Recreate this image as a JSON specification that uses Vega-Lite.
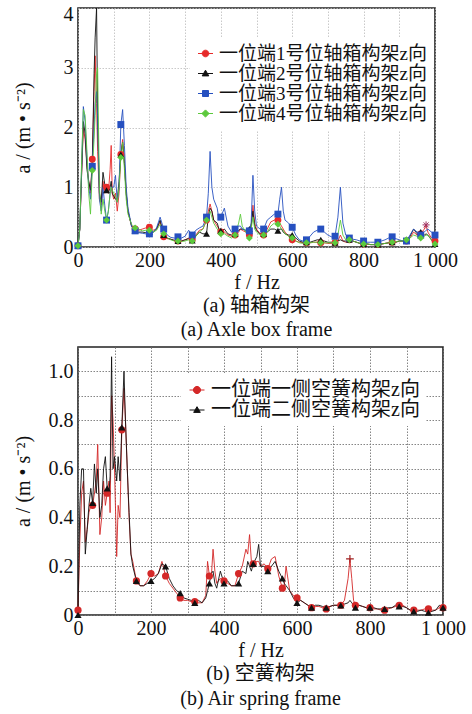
{
  "$schema": "https://vega.github.io/schema/vega-lite/v6.json",
  "padding": {"left": 12, "top": 3, "right": 5, "bottom": 4},
  "background": "white",
  "config": {
    "font": "Liberation Serif",
    "view": {"stroke": "#222", "strokeWidth": 1.6},
    "axis": {"labelFont": "Liberation Serif", "labelFontSize": 20, "labelColor": "#111", "titleFont": "Liberation Serif", "titleFontSize": 20, "titleFontWeight": "normal", "titleColor": "#111", "domain": false, "ticks": false, "gridDash": [1.5, 1.5]},
    "title": {"font": "Liberation Serif, Noto Sans CJK SC", "fontSize": 20, "fontWeight": "normal", "color": "#111", "subtitleFont": "Liberation Serif", "subtitleFontSize": 20, "subtitleColor": "#111", "orient": "bottom", "anchor": "middle", "frame": "group"}
  },
  "resolve": {"scale": {"color": "independent", "shape": "independent"}, "legend": {"color": "independent", "shape": "independent"}},
  "spacing": 5,
  "datasets": {
    "top": [
      {"f":0,"s1":0.02,"s2":0.02,"s3":0.02,"s4":0.02},
      {"f":5,"s1":0.3,"s2":0.3,"s3":0.3,"s4":0.3},
      {"f":10,"s1":1.2,"s2":1.2,"s3":1.3,"s4":1.4},
      {"f":15,"s1":2.0,"s2":2.1,"s3":2.35,"s4":2.3},
      {"f":20,"s1":1.8,"s2":1.9,"s3":2.1,"s4":2.2},
      {"f":25,"s1":1.4,"s2":1.3,"s3":1.5,"s4":1.6},
      {"f":30,"s1":1.1,"s2":1.1,"s3":1.0,"s4":0.9},
      {"f":35,"s1":0.9,"s2":0.95,"s3":0.8,"s4":0.55},
      {"f":40,"s1":1.47,"s2":1.35,"s3":1.35,"s4":1.28},
      {"f":45,"s1":2.6,"s2":2.9,"s3":2.0,"s4":1.8},
      {"f":48,"s1":3.2,"s2":3.5,"s3":2.4,"s4":2.2},
      {"f":52,"s1":2.4,"s2":4.0,"s3":2.6,"s4":2.9},
      {"f":55,"s1":1.6,"s2":2.2,"s3":2.2,"s4":3.0},
      {"f":60,"s1":0.8,"s2":0.9,"s3":0.8,"s4":1.0},
      {"f":65,"s1":0.7,"s2":0.75,"s3":0.6,"s4":0.55},
      {"f":70,"s1":1.1,"s2":1.25,"s3":1.0,"s4":0.8},
      {"f":75,"s1":0.9,"s2":1.05,"s3":0.7,"s4":0.6},
      {"f":80,"s1":1.0,"s2":0.95,"s3":0.45,"s4":0.45},
      {"f":85,"s1":0.9,"s2":0.9,"s3":0.6,"s4":0.6},
      {"f":90,"s1":1.3,"s2":1.0,"s3":0.9,"s4":0.9},
      {"f":93,"s1":1.7,"s2":1.1,"s3":1.0,"s4":1.0},
      {"f":96,"s1":0.9,"s2":0.9,"s3":1.0,"s4":0.95},
      {"f":100,"s1":0.8,"s2":0.85,"s3":1.0,"s4":0.9},
      {"f":105,"s1":0.9,"s2":0.8,"s3":1.2,"s4":0.85},
      {"f":110,"s1":0.6,"s2":0.8,"s3":0.75,"s4":0.75},
      {"f":115,"s1":0.9,"s2":1.1,"s3":1.0,"s4":1.0},
      {"f":120,"s1":1.55,"s2":1.55,"s3":2.05,"s4":1.5},
      {"f":125,"s1":1.8,"s2":1.75,"s3":2.3,"s4":1.75},
      {"f":130,"s1":1.4,"s2":1.4,"s3":1.7,"s4":1.3},
      {"f":135,"s1":0.9,"s2":0.9,"s3":1.0,"s4":0.8},
      {"f":140,"s1":0.6,"s2":0.6,"s3":0.65,"s4":0.55},
      {"f":150,"s1":0.35,"s2":0.35,"s3":0.35,"s4":0.38},
      {"f":160,"s1":0.3,"s2":0.27,"s3":0.27,"s4":0.32},
      {"f":170,"s1":0.28,"s2":0.25,"s3":0.24,"s4":0.3},
      {"f":180,"s1":0.3,"s2":0.25,"s3":0.23,"s4":0.27},
      {"f":190,"s1":0.32,"s2":0.24,"s3":0.22,"s4":0.28},
      {"f":200,"s1":0.33,"s2":0.25,"s3":0.22,"s4":0.28},
      {"f":210,"s1":0.28,"s2":0.24,"s3":0.24,"s4":0.25},
      {"f":220,"s1":0.3,"s2":0.3,"s3":0.32,"s4":0.28},
      {"f":230,"s1":0.42,"s2":0.45,"s3":0.5,"s4":0.38},
      {"f":240,"s1":0.17,"s2":0.2,"s3":0.3,"s4":0.22},
      {"f":250,"s1":0.14,"s2":0.15,"s3":0.2,"s4":0.15},
      {"f":260,"s1":0.13,"s2":0.13,"s3":0.16,"s4":0.12},
      {"f":270,"s1":0.11,"s2":0.11,"s3":0.15,"s4":0.1},
      {"f":280,"s1":0.1,"s2":0.1,"s3":0.17,"s4":0.1},
      {"f":290,"s1":0.1,"s2":0.1,"s3":0.15,"s4":0.09},
      {"f":300,"s1":0.12,"s2":0.12,"s3":0.18,"s4":0.1},
      {"f":310,"s1":0.15,"s2":0.14,"s3":0.28,"s4":0.12},
      {"f":320,"s1":0.12,"s2":0.11,"s3":0.2,"s4":0.1},
      {"f":330,"s1":0.2,"s2":0.18,"s3":0.28,"s4":0.18},
      {"f":340,"s1":0.28,"s2":0.25,"s3":0.32,"s4":0.25},
      {"f":350,"s1":0.3,"s2":0.22,"s3":0.35,"s4":0.3},
      {"f":360,"s1":0.45,"s2":0.22,"s3":0.5,"s4":0.45},
      {"f":365,"s1":0.6,"s2":0.5,"s3":0.9,"s4":0.5},
      {"f":370,"s1":0.72,"s2":0.65,"s3":1.6,"s4":0.6},
      {"f":375,"s1":0.6,"s2":0.6,"s3":1.0,"s4":0.5},
      {"f":380,"s1":0.45,"s2":0.45,"s3":0.8,"s4":0.4},
      {"f":390,"s1":0.35,"s2":0.4,"s3":0.65,"s4":0.3},
      {"f":395,"s1":0.3,"s2":0.3,"s3":0.45,"s4":0.25},
      {"f":400,"s1":0.25,"s2":0.27,"s3":0.5,"s4":0.22},
      {"f":410,"s1":0.25,"s2":0.3,"s3":0.65,"s4":0.22},
      {"f":420,"s1":0.2,"s2":0.22,"s3":0.35,"s4":0.18},
      {"f":430,"s1":0.18,"s2":0.2,"s3":0.25,"s4":0.15},
      {"f":440,"s1":0.2,"s2":0.22,"s3":0.3,"s4":0.2},
      {"f":450,"s1":0.25,"s2":0.28,"s3":0.35,"s4":0.4},
      {"f":455,"s1":0.3,"s2":0.3,"s3":0.35,"s4":0.55},
      {"f":460,"s1":0.28,"s2":0.3,"s3":0.3,"s4":0.35},
      {"f":470,"s1":0.25,"s2":0.28,"s3":0.28,"s4":0.25},
      {"f":480,"s1":0.2,"s2":0.3,"s3":0.27,"s4":0.15},
      {"f":485,"s1":0.35,"s2":0.35,"s3":0.4,"s4":0.3},
      {"f":490,"s1":0.7,"s2":0.6,"s3":1.2,"s4":0.5},
      {"f":495,"s1":0.4,"s2":0.35,"s3":0.6,"s4":0.3},
      {"f":500,"s1":0.3,"s2":0.28,"s3":0.35,"s4":0.25},
      {"f":510,"s1":0.22,"s2":0.22,"s3":0.3,"s4":0.2},
      {"f":520,"s1":0.2,"s2":0.22,"s3":0.3,"s4":0.2},
      {"f":530,"s1":0.3,"s2":0.25,"s3":0.45,"s4":0.25},
      {"f":540,"s1":0.42,"s2":0.3,"s3":0.5,"s4":0.35},
      {"f":550,"s1":0.45,"s2":0.3,"s3":0.55,"s4":0.4},
      {"f":560,"s1":0.45,"s2":0.27,"s3":0.55,"s4":0.38},
      {"f":565,"s1":0.4,"s2":0.3,"s3":0.8,"s4":0.35},
      {"f":570,"s1":0.35,"s2":0.3,"s3":1.0,"s4":0.3},
      {"f":575,"s1":0.3,"s2":0.25,"s3":0.6,"s4":0.28},
      {"f":580,"s1":0.25,"s2":0.22,"s3":0.45,"s4":0.22},
      {"f":590,"s1":0.18,"s2":0.2,"s3":0.4,"s4":0.18},
      {"f":600,"s1":0.12,"s2":0.2,"s3":0.33,"s4":0.15},
      {"f":610,"s1":0.1,"s2":0.15,"s3":0.2,"s4":0.1},
      {"f":620,"s1":0.08,"s2":0.1,"s3":0.12,"s4":0.07},
      {"f":630,"s1":0.07,"s2":0.08,"s3":0.1,"s4":0.06},
      {"f":640,"s1":0.07,"s2":0.08,"s3":0.12,"s4":0.07},
      {"f":650,"s1":0.07,"s2":0.08,"s3":0.18,"s4":0.07},
      {"f":660,"s1":0.08,"s2":0.1,"s3":0.25,"s4":0.08},
      {"f":670,"s1":0.08,"s2":0.12,"s3":0.28,"s4":0.08},
      {"f":680,"s1":0.07,"s2":0.12,"s3":0.3,"s4":0.07},
      {"f":690,"s1":0.07,"s2":0.1,"s3":0.25,"s4":0.07},
      {"f":700,"s1":0.06,"s2":0.08,"s3":0.2,"s4":0.07},
      {"f":710,"s1":0.06,"s2":0.08,"s3":0.17,"s4":0.07},
      {"f":720,"s1":0.07,"s2":0.07,"s3":0.18,"s4":0.07},
      {"f":728,"s1":0.1,"s2":0.1,"s3":0.5,"s4":0.2},
      {"f":735,"s1":0.2,"s2":0.12,"s3":1.0,"s4":0.45},
      {"f":742,"s1":0.1,"s2":0.1,"s3":0.4,"s4":0.2},
      {"f":750,"s1":0.08,"s2":0.1,"s3":0.2,"s4":0.12},
      {"f":760,"s1":0.12,"s2":0.12,"s3":0.15,"s4":0.12},
      {"f":770,"s1":0.1,"s2":0.1,"s3":0.13,"s4":0.1},
      {"f":780,"s1":0.08,"s2":0.08,"s3":0.12,"s4":0.08},
      {"f":790,"s1":0.06,"s2":0.06,"s3":0.1,"s4":0.06},
      {"f":800,"s1":0.05,"s2":0.05,"s3":0.1,"s4":0.05},
      {"f":810,"s1":0.05,"s2":0.05,"s3":0.08,"s4":0.05},
      {"f":820,"s1":0.04,"s2":0.04,"s3":0.08,"s4":0.04},
      {"f":830,"s1":0.04,"s2":0.04,"s3":0.08,"s4":0.04},
      {"f":840,"s1":0.04,"s2":0.04,"s3":0.08,"s4":0.04},
      {"f":850,"s1":0.05,"s2":0.05,"s3":0.1,"s4":0.05},
      {"f":860,"s1":0.06,"s2":0.06,"s3":0.12,"s4":0.06},
      {"f":870,"s1":0.07,"s2":0.07,"s3":0.15,"s4":0.07},
      {"f":880,"s1":0.08,"s2":0.08,"s3":0.17,"s4":0.08},
      {"f":890,"s1":0.08,"s2":0.08,"s3":0.14,"s4":0.09},
      {"f":900,"s1":0.1,"s2":0.1,"s3":0.12,"s4":0.1},
      {"f":910,"s1":0.1,"s2":0.1,"s3":0.1,"s4":0.1},
      {"f":920,"s1":0.1,"s2":0.1,"s3":0.1,"s4":0.12},
      {"f":930,"s1":0.15,"s2":0.18,"s3":0.2,"s4":0.15},
      {"f":940,"s1":0.25,"s2":0.3,"s3":0.3,"s4":0.2},
      {"f":950,"s1":0.2,"s2":0.22,"s3":0.25,"s4":0.18},
      {"f":960,"s1":0.22,"s2":0.25,"s3":0.2,"s4":0.15},
      {"f":970,"s1":0.3,"s2":0.2,"s3":0.25,"s4":0.18},
      {"f":975,"s1":0.37,"s2":0.22,"s3":0.28,"s4":0.2},
      {"f":980,"s1":0.25,"s2":0.2,"s3":0.3,"s4":0.2},
      {"f":990,"s1":0.15,"s2":0.12,"s3":0.25,"s4":0.12},
      {"f":1000,"s1":0.1,"s2":0.05,"s3":0.2,"s4":0.05}
    ],
    "bot": [
      {"f":0,"s1":0.02,"s2":0.0},
      {"f":5,"s1":0.3,"s2":0.45},
      {"f":10,"s1":0.5,"s2":0.6},
      {"f":15,"s1":0.55,"s2":0.6},
      {"f":20,"s1":0.3,"s2":0.25},
      {"f":25,"s1":0.35,"s2":0.35},
      {"f":30,"s1":0.42,"s2":0.45},
      {"f":35,"s1":0.45,"s2":0.52},
      {"f":40,"s1":0.45,"s2":0.46},
      {"f":45,"s1":0.5,"s2":0.62},
      {"f":50,"s1":0.55,"s2":0.5},
      {"f":54,"s1":0.7,"s2":0.6},
      {"f":60,"s1":0.33,"s2":0.4},
      {"f":65,"s1":0.4,"s2":0.45},
      {"f":70,"s1":0.55,"s2":0.6},
      {"f":75,"s1":0.45,"s2":0.65},
      {"f":80,"s1":0.5,"s2":0.52},
      {"f":85,"s1":0.55,"s2":0.5},
      {"f":88,"s1":0.42,"s2":0.57},
      {"f":92,"s1":0.9,"s2":1.06},
      {"f":96,"s1":0.8,"s2":0.6},
      {"f":100,"s1":0.6,"s2":0.65},
      {"f":106,"s1":0.24,"s2":0.55},
      {"f":110,"s1":0.45,"s2":0.65},
      {"f":115,"s1":0.4,"s2":0.55},
      {"f":120,"s1":0.76,"s2":0.77},
      {"f":126,"s1":0.93,"s2":1.0},
      {"f":130,"s1":0.8,"s2":0.8},
      {"f":135,"s1":0.6,"s2":0.6},
      {"f":140,"s1":0.4,"s2":0.42},
      {"f":145,"s1":0.25,"s2":0.25},
      {"f":150,"s1":0.22,"s2":0.2},
      {"f":160,"s1":0.14,"s2":0.14},
      {"f":170,"s1":0.12,"s2":0.12},
      {"f":180,"s1":0.12,"s2":0.12},
      {"f":190,"s1":0.14,"s2":0.13},
      {"f":200,"s1":0.17,"s2":0.14},
      {"f":210,"s1":0.16,"s2":0.15},
      {"f":220,"s1":0.17,"s2":0.17},
      {"f":230,"s1":0.22,"s2":0.21},
      {"f":240,"s1":0.16,"s2":0.2},
      {"f":250,"s1":0.13,"s2":0.15},
      {"f":260,"s1":0.11,"s2":0.12},
      {"f":270,"s1":0.09,"s2":0.1},
      {"f":280,"s1":0.07,"s2":0.09},
      {"f":290,"s1":0.06,"s2":0.07},
      {"f":300,"s1":0.06,"s2":0.065},
      {"f":310,"s1":0.055,"s2":0.06},
      {"f":320,"s1":0.055,"s2":0.05},
      {"f":330,"s1":0.05,"s2":0.06},
      {"f":340,"s1":0.05,"s2":0.05},
      {"f":350,"s1":0.08,"s2":0.07},
      {"f":355,"s1":0.22,"s2":0.1},
      {"f":360,"s1":0.16,"s2":0.13},
      {"f":365,"s1":0.15,"s2":0.17},
      {"f":370,"s1":0.27,"s2":0.18},
      {"f":375,"s1":0.18,"s2":0.13},
      {"f":380,"s1":0.13,"s2":0.11},
      {"f":390,"s1":0.15,"s2":0.18},
      {"f":400,"s1":0.14,"s2":0.13},
      {"f":410,"s1":0.13,"s2":0.14},
      {"f":420,"s1":0.12,"s2":0.12},
      {"f":430,"s1":0.12,"s2":0.12},
      {"f":440,"s1":0.17,"s2":0.13},
      {"f":450,"s1":0.2,"s2":0.18},
      {"f":460,"s1":0.27,"s2":0.17},
      {"f":465,"s1":0.25,"s2":0.22},
      {"f":470,"s1":0.33,"s2":0.2},
      {"f":475,"s1":0.22,"s2":0.18},
      {"f":480,"s1":0.21,"s2":0.21},
      {"f":490,"s1":0.22,"s2":0.24},
      {"f":495,"s1":0.22,"s2":0.29},
      {"f":500,"s1":0.2,"s2":0.2},
      {"f":510,"s1":0.21,"s2":0.2},
      {"f":520,"s1":0.19,"s2":0.18},
      {"f":530,"s1":0.23,"s2":0.2},
      {"f":540,"s1":0.24,"s2":0.22},
      {"f":550,"s1":0.16,"s2":0.18},
      {"f":560,"s1":0.11,"s2":0.15},
      {"f":565,"s1":0.12,"s2":0.13},
      {"f":570,"s1":0.2,"s2":0.12},
      {"f":580,"s1":0.1,"s2":0.1},
      {"f":590,"s1":0.08,"s2":0.07},
      {"f":600,"s1":0.07,"s2":0.05},
      {"f":610,"s1":0.06,"s2":0.06},
      {"f":620,"s1":0.05,"s2":0.05},
      {"f":630,"s1":0.04,"s2":0.04},
      {"f":640,"s1":0.03,"s2":0.03},
      {"f":650,"s1":0.035,"s2":0.04},
      {"f":660,"s1":0.035,"s2":0.04},
      {"f":670,"s1":0.03,"s2":0.035},
      {"f":680,"s1":0.025,"s2":0.03},
      {"f":690,"s1":0.035,"s2":0.035},
      {"f":700,"s1":0.04,"s2":0.04},
      {"f":710,"s1":0.04,"s2":0.04},
      {"f":720,"s1":0.04,"s2":0.04},
      {"f":730,"s1":0.06,"s2":0.045},
      {"f":740,"s1":0.15,"s2":0.05},
      {"f":745,"s1":0.23,"s2":0.06},
      {"f":750,"s1":0.15,"s2":0.05},
      {"f":755,"s1":0.06,"s2":0.04},
      {"f":760,"s1":0.04,"s2":0.03},
      {"f":770,"s1":0.04,"s2":0.04},
      {"f":780,"s1":0.035,"s2":0.035},
      {"f":790,"s1":0.03,"s2":0.03},
      {"f":800,"s1":0.03,"s2":0.03},
      {"f":810,"s1":0.025,"s2":0.03},
      {"f":820,"s1":0.025,"s2":0.025},
      {"f":830,"s1":0.02,"s2":0.025},
      {"f":840,"s1":0.02,"s2":0.025},
      {"f":850,"s1":0.025,"s2":0.03},
      {"f":860,"s1":0.03,"s2":0.03},
      {"f":870,"s1":0.035,"s2":0.04},
      {"f":880,"s1":0.04,"s2":0.035},
      {"f":890,"s1":0.04,"s2":0.035},
      {"f":900,"s1":0.03,"s2":0.03},
      {"f":910,"s1":0.02,"s2":0.02},
      {"f":920,"s1":0.02,"s2":0.015},
      {"f":930,"s1":0.02,"s2":0.015},
      {"f":940,"s1":0.02,"s2":0.02},
      {"f":950,"s1":0.025,"s2":0.015},
      {"f":960,"s1":0.025,"s2":0.01},
      {"f":970,"s1":0.02,"s2":0.015},
      {"f":980,"s1":0.02,"s2":0.02},
      {"f":990,"s1":0.03,"s2":0.04},
      {"f":1000,"s1":0.03,"s2":0.03}
    ]
  },
  "vconcat": [
    {
      "width": 357,
      "height": 239,
      "title": {"text": "(a)  轴箱构架", "subtitle": "(a)  Axle box frame", "offset": 4, "subtitlePadding": 4},
      "data": {"name": "top"},
      "encoding": {
        "x": {"field": "f", "type": "quantitative", "scale": {"domain": [0, 1000], "nice": false},
              "axis": {"title": "f / Hz", "labelFont": "Liberation Serif", "titleFont": "Liberation Serif", "values": [0,100,200,300,400,500,600,700,800,900,1000], "labelExpr": "datum.value % 200 == 0 ? (datum.value == 1000 ? '1 000' : datum.label) : ''", "labelPadding": 3, "titlePadding": 2, "gridColor": "#bbbbbb", "gridWidth": 0.8, "labelFlush": false}},
        "y": {"field": "a", "type": "quantitative", "scale": {"domain": [0, 4], "nice": false},
              "axis": {"title": "a / (m • s⁻²)", "labelFont": "Liberation Serif", "titleFont": "Liberation Serif", "values": [0,1,2,3,4], "labelOffset": {"condition": {"test": "datum.value == 4", "value": 6}, "value": 0}, "labelPadding": 5, "titlePadding": 30, "gridColor": "#bbbbbb", "gridWidth": 0.8}}
      },
      "layer": [
        {
          "transform": [{"fold": ["s1","s2","s3","s4"], "as": ["s","a"]}],
          "mark": {"type": "line", "strokeWidth": 0.9},
          "encoding": {
            "color": {"field": "s", "type": "nominal", "scale": {"domain": ["s1","s2","s3","s4"], "range": ["#e62a2a","#111111","#2650c0","#5cc93c"]},
              "legend": {"title": null, "orient": "none", "legendX": 112, "legendY": 30, "fillColor": "white", "padding": 6, "labelFont": "Liberation Serif, Noto Sans CJK SC", "labelFontSize": 19, "labelColor": "#111", "labelLimit": 400, "labelOffset": 4, "symbolSize": 36, "rowPadding": -0.4,
                "labelExpr": "datum.value=='s1'?'一位端1号位轴箱构架z向':datum.value=='s2'?'一位端2号位轴箱构架z向':datum.value=='s3'?'一位端3号位轴箱构架z向':'一位端4号位轴箱构架z向'",
                "encode": {"symbols": {"update": {
                  "shape": {"signal": "datum.value=='s1'?'M-2.5,0H2.5M1.1,0A1.1,1.1,0,1,1,-1.1,0A1.1,1.1,0,1,1,1.1,0Z':datum.value=='s2'?'M-2.5,0H2.5M0,-1.1L1.1,0.8L-1.1,0.8Z':datum.value=='s3'?'M-2.5,0H2.5M-1,-1H1V1H-1Z':'M-2.5,0H2.5M0,-1.2L1.2,0L0,1.2L-1.2,0Z'"},
                  "fill": {"signal": "datum.value=='s1'?'#e62a2a':datum.value=='s2'?'#111111':datum.value=='s3'?'#2650c0':'#5cc93c'"},
                  "stroke": {"signal": "datum.value=='s1'?'#e62a2a':datum.value=='s2'?'#111111':datum.value=='s3'?'#2650c0':'#5cc93c'"},
                  "strokeWidth": {"value": 1},
                  "opacity": {"value": 1}
                }}}}}
          }
        },
        {
          "transform": [{"fold": ["s1","s2","s3","s4"], "as": ["s","a"]}, {"filter": "datum.f % 40 == 0"}],
          "mark": {"type": "point", "filled": true, "size": 48, "opacity": 1},
          "encoding": {
            "color": {"field": "s", "type": "nominal", "scale": {"domain": ["s1","s2","s3","s4"], "range": ["#e62a2a","#111111","#2650c0","#5cc93c"]}, "legend": null},
            "shape": {"field": "s", "type": "nominal", "scale": {"domain": ["s4","s3","s2","s1"], "range": ["diamond","square","triangle-up","circle"]}, "legend": null}
          }
        },
        {
          "data": {"values": [{"f": 975, "a": 0.37}]},
          "mark": {"type": "point", "filled": false, "size": 50, "color": "#a03060", "strokeWidth": 1, "opacity": 1, "shape": "M-1,0H1M0,-1V1M-0.7,-0.7L0.7,0.7M-0.7,0.7L0.7,-0.7"},
          "encoding": {}
        }
      ]
    },
    {
      "width": 365,
      "height": 268,
      "title": {"text": "(b)  空簧构架", "subtitle": "(b)  Air spring frame", "offset": 4, "subtitlePadding": 5},
      "data": {"name": "bot"},
      "encoding": {
        "x": {"field": "f", "type": "quantitative", "scale": {"domain": [0, 1000], "nice": false},
              "axis": {"title": "f / Hz", "labelFont": "Liberation Serif", "titleFont": "Liberation Serif", "values": [0,100,200,300,400,500,600,700,800,900,1000], "labelExpr": "datum.value % 200 == 0 ? (datum.value == 1000 ? '1 000' : datum.label) : ''", "labelPadding": 3, "titlePadding": 2, "gridColor": "#777777", "gridWidth": 0.9, "labelFlush": false}},
        "y": {"field": "a", "type": "quantitative", "scale": {"domain": [0, 1.1], "nice": false},
              "axis": {"title": "a / (m • s⁻²)", "labelFont": "Liberation Serif", "titleFont": "Liberation Serif", "values": [0,0.1,0.2,0.3,0.4,0.5,0.6,0.7,0.8,0.9,1.0], "labelExpr": "datum.value == 0 ? '0' : (round(datum.value*10) % 2 == 0 ? format(datum.value, '.1f') : '')", "labelPadding": 5, "titlePadding": 15, "gridColor": "#777777", "gridWidth": 0.9}}
      },
      "layer": [
        {
          "transform": [{"fold": ["s1","s2"], "as": ["s","a"]}],
          "mark": {"type": "line", "strokeWidth": 0.9},
          "encoding": {
            "color": {"field": "s", "type": "nominal", "scale": {"domain": ["s1","s2"], "range": ["#d42828","#111111"]},
              "legend": {"title": null, "orient": "none", "legendX": 103, "legendY": 27, "fillColor": "white", "padding": 6, "labelFont": "Liberation Serif, Noto Sans CJK SC", "labelFontSize": 20, "labelColor": "#111", "labelLimit": 400, "labelOffset": 4, "symbolSize": 36, "rowPadding": 0,
                "labelExpr": "datum.value=='s1'?'一位端一侧空簧构架z向':'一位端二侧空簧构架z向'",
                "encode": {"symbols": {"update": {
                  "shape": {"signal": "datum.value=='s1'?'M-2.5,0H2.5M1.2,0A1.2,1.2,0,1,1,-1.2,0A1.2,1.2,0,1,1,1.2,0Z':'M-2.5,0H2.5M0,-1.1L1.1,0.8L-1.1,0.8Z'"},
                  "fill": {"signal": "datum.value=='s1'?'#ee2a2a':'#111111'"},
                  "stroke": {"signal": "datum.value=='s1'?'#ee2a2a':'#111111'"},
                  "strokeWidth": {"value": 1},
                  "opacity": {"value": 1}
                }}}}}
          }
        },
        {
          "transform": [{"fold": ["s1","s2"], "as": ["s","a"]}, {"filter": "datum.f % 40 == 0"}],
          "mark": {"type": "point", "filled": true, "size": 52, "opacity": 1},
          "encoding": {
            "color": {"field": "s", "type": "nominal", "scale": {"domain": ["s1","s2"], "range": ["#ee2a2a","#111111"]}, "legend": null},
            "shape": {"field": "s", "type": "nominal", "scale": {"domain": ["s2","s1"], "range": ["triangle-up","circle"]}, "legend": null}
          }
        },
        {
          "data": {"values": [{"f": 745, "a": 0.23}]},
          "mark": {"type": "point", "filled": false, "size": 60, "color": "#a02020", "strokeWidth": 1.2, "opacity": 1, "shape": "M-1,0H1M0,-1V1"},
          "encoding": {}
        }
      ]
    }
  ]
}
